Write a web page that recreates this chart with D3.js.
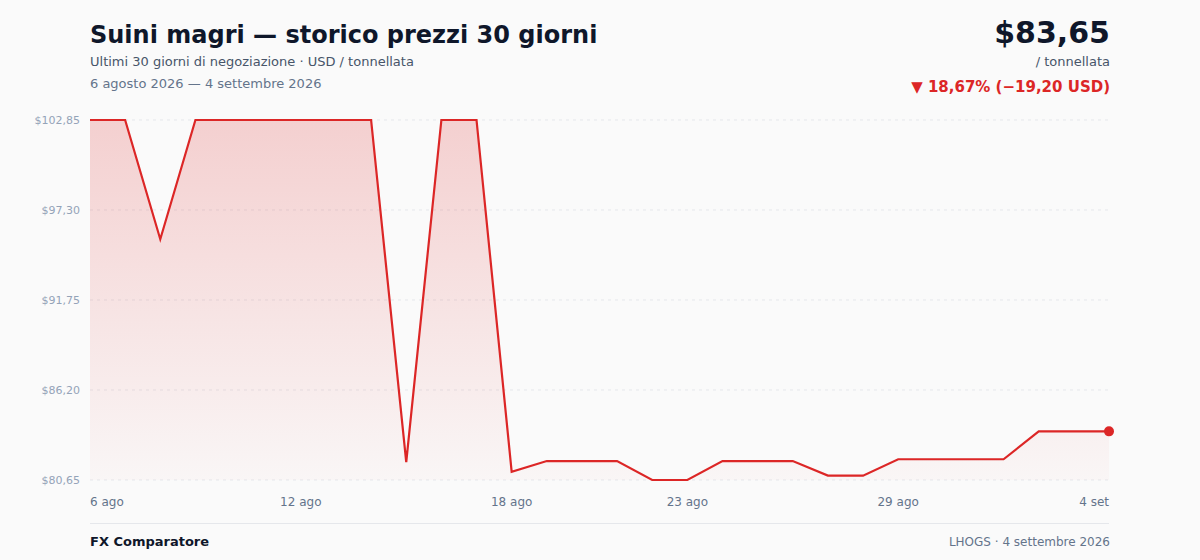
<!DOCTYPE html>
<html>
<head>
<meta charset="utf-8">
<script src="https://cdn.jsdelivr.net/npm/d3@7/dist/d3.min.js"></script>
<style>
  html, body { margin: 0; padding: 0; background: #fafafa; }
  svg { display: block; font-family: "DejaVu Sans", sans-serif; }
</style>
</head>
<body>
<svg id="chart" width="1200" height="560"></svg>
<script>
// 30 trading days, 6 Aug -> 4 Sep 2026 (USD / tonnellata)
const dates = d3.range(30).map(i => new Date(2026, 7, 6 + i));
const prices = [
  102.85, 102.85, 95.50, 102.85, 102.85, 102.85, 102.85, 102.85, 102.85, 81.75,
  102.85, 102.85, 81.16, 81.82, 81.82, 81.82, 80.65, 80.65, 81.82, 81.82,
  81.82, 80.92, 80.92, 81.93, 81.93, 81.93, 81.93, 83.65, 83.65, 83.65
];
const tickDates = [new Date(2026, 7, 6), new Date(2026, 7, 12), new Date(2026, 7, 18),
  new Date(2026, 7, 23), new Date(2026, 7, 29), new Date(2026, 8, 4)];
const monthNames = ["gen", "feb", "mar", "apr", "mag", "giu", "lug", "ago", "set", "ott", "nov", "dic"];

const svg = d3.select('#chart');
const margin = { left: 90, right: 91, top: 120, bottom: 80 };
const W = 1200, H = 560;

const data = dates.map((d, i) => ({ date: d, value: prices[i] }));
const first = prices[0], last = prices[prices.length - 1];
const minV = d3.min(prices), maxV = d3.max(prices);

const x = d3.scaleTime()
  .domain(d3.extent(dates))
  .range([margin.left, W - margin.right]);
const y = d3.scaleLinear()
  .domain([minV, maxV])
  .range([H - margin.bottom, margin.top]);

const fmt = v => v.toFixed(2).replace('.', ',');

// header
svg.append('text').attr('x', 90).attr('y', 43)
  .attr('font-size', 24).attr('font-weight', 700).attr('fill', '#0f172a')
  .text('Suini magri — storico prezzi 30 giorni');
svg.append('text').attr('x', 90).attr('y', 66)
  .attr('font-size', 13).attr('fill', '#475569')
  .text('Ultimi 30 giorni di negoziazione · USD / tonnellata');
svg.append('text').attr('x', 90).attr('y', 88)
  .attr('font-size', 13).attr('fill', '#64748b')
  .text('6 agosto 2026 — 4 settembre 2026');

svg.append('text').attr('x', 1110).attr('y', 43).attr('text-anchor', 'end')
  .attr('font-size', 30).attr('font-weight', 700).attr('fill', '#0f172a')
  .text('$' + fmt(last));
svg.append('text').attr('x', 1110).attr('y', 66).attr('text-anchor', 'end')
  .attr('font-size', 13).attr('fill', '#475569')
  .text('/ tonnellata');
const diff = last - first;
const pct = Math.abs(diff / first * 100);
svg.append('text').attr('x', 1110).attr('y', 92).attr('text-anchor', 'end')
  .attr('font-size', 15).attr('font-weight', 700).attr('fill', '#dc2626')
  .text('▼ ' + fmt(pct) + '% (−' + fmt(Math.abs(diff)) + ' USD)');

// gradient
const defs = svg.append('defs');
const grad = defs.append('linearGradient').attr('id', 'areaGrad')
  .attr('x1', 0).attr('y1', 0).attr('x2', 0).attr('y2', 1);
grad.append('stop').attr('offset', '0%').attr('stop-color', '#dc2626').attr('stop-opacity', 0.2);
grad.append('stop').attr('offset', '100%').attr('stop-color', '#dc2626').attr('stop-opacity', 0.02);

// grid + y labels
const yTicks = d3.range(5).map(i => minV + (maxV - minV) * i / 4);
svg.append('g').selectAll('line').data(yTicks).join('line')
  .attr('x1', margin.left).attr('x2', W - margin.right)
  .attr('y1', d => y(d)).attr('y2', d => y(d))
  .attr('stroke', '#e5e7eb').attr('stroke-dasharray', '3,4');
svg.append('g').selectAll('text').data(yTicks).join('text')
  .attr('x', 80).attr('y', d => y(d) + 4).attr('text-anchor', 'end')
  .attr('font-size', 11).attr('fill', '#94a3b8')
  .text(d => '$' + fmt(d));

// area + line
svg.append('path').datum(data)
  .attr('fill', 'url(#areaGrad)')
  .attr('d', d3.area().x(d => x(d.date)).y0(H - margin.bottom).y1(d => y(d.value)));
svg.append('path').datum(data)
  .attr('fill', 'none').attr('stroke', '#dc2626').attr('stroke-width', 2.2)
  .attr('stroke-linejoin', 'miter')
  .attr('d', d3.line().x(d => x(d.date)).y(d => y(d.value)));
svg.append('circle')
  .attr('cx', x(dates[dates.length - 1])).attr('cy', y(last)).attr('r', 5)
  .attr('fill', '#dc2626');

// x labels
svg.append('g').selectAll('text').data(tickDates).join('text')
  .attr('x', d => x(d)).attr('y', 506)
  .attr('text-anchor', (d, i) => i === 0 ? 'start' : i === tickDates.length - 1 ? 'end' : 'middle')
  .attr('font-size', 12).attr('fill', '#64748b')
  .text(d => d.getDate() + ' ' + monthNames[d.getMonth()]);

// footer
svg.append('line').attr('x1', 90).attr('x2', 1109).attr('y1', 523.5).attr('y2', 523.5)
  .attr('stroke', '#e5e7eb');
svg.append('text').attr('x', 90).attr('y', 546)
  .attr('font-size', 13).attr('font-weight', 700).attr('fill', '#0f172a')
  .text('FX Comparatore');
svg.append('text').attr('x', 1110).attr('y', 546).attr('text-anchor', 'end')
  .attr('font-size', 12).attr('fill', '#64748b')
  .text('LHOGS · 4 settembre 2026');
</script>
</body>
</html>
